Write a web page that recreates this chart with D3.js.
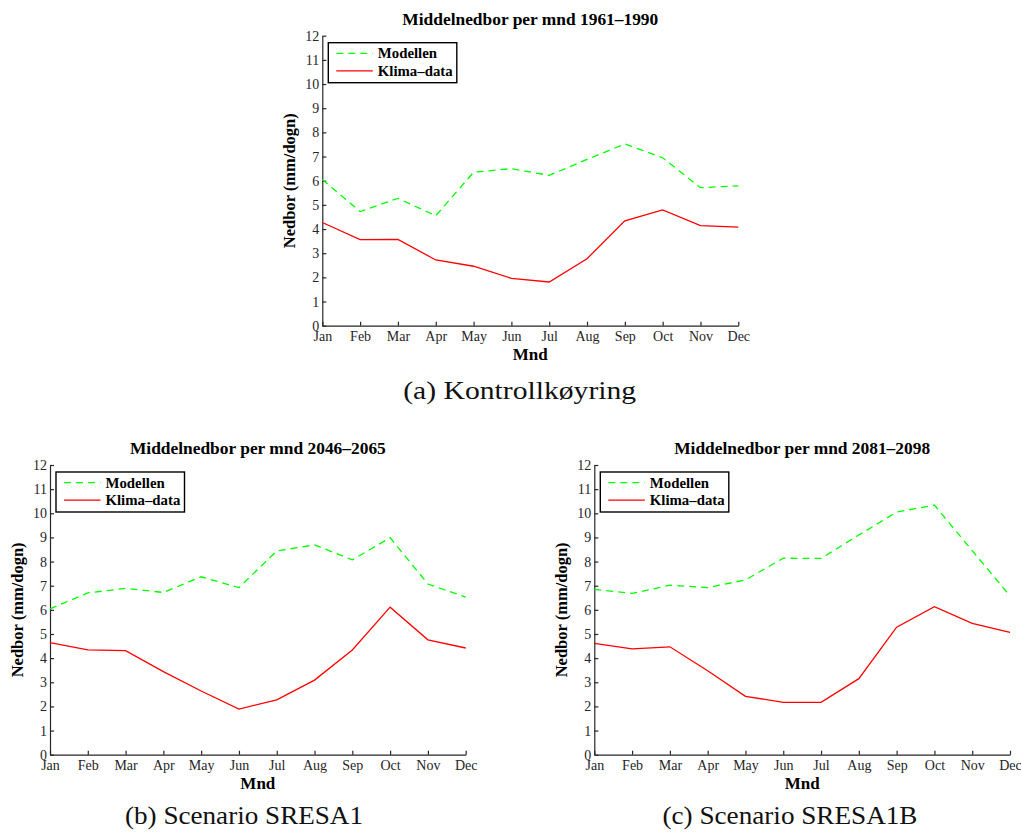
<!DOCTYPE html>
<html>
<head>
<meta charset="utf-8">
<script src="https://cdn.jsdelivr.net/npm/d3@7"></script>
<style>
  body { margin: 0; background: #fff; }
  svg { display: block; }
  .axis path, .axis line { stroke: #262626; stroke-width: 1.2px; }
  .axis text { font-family: "Liberation Serif", serif; font-size: 14px; fill: #262626; }
</style>
</head>
<body>
<script>
const months = ["Jan", "Feb", "Mar", "Apr", "May", "Jun", "Jul", "Aug", "Sep", "Oct", "Nov", "Dec"]
const yTicks = [0, 1, 2, 3, 4, 5, 6, 7, 8, 9, 10, 11, 12]
const seriesNames = ["Modellen", "Klima\u2013data"]

// 1961-1990 (kontroll)
const modellenA = [6.05, 4.72, 5.27, 4.55, 6.35, 6.5, 6.22, 6.88, 7.52, 6.95, 5.71, 5.79]
const klimaA = [4.27, 3.56, 3.57, 2.72, 2.46, 1.96, 1.81, 2.77, 4.34, 4.79, 4.14, 4.08]
// 2046-2065 (SRESA1)
const modellenB = [6.04, 6.7, 6.89, 6.72, 7.37, 6.92, 8.44, 8.69, 8.07, 8.99, 7.07, 6.53]
const klimaB = [4.64, 4.34, 4.31, 3.44, 2.64, 1.89, 2.27, 3.09, 4.34, 6.11, 4.76, 4.42]
// 2081-2098 (SRESA1B)
const modellenC = [6.85, 6.68, 7.02, 6.92, 7.24, 8.14, 8.13, 9.1, 10.05, 10.34, 8.45, 6.58]
const klimaC = [4.61, 4.38, 4.47, 3.48, 2.42, 2.17, 2.17, 3.15, 5.28, 6.13, 5.44, 5.07]

const panels = [
    { title: "Middelnedbor per mnd 1961\u20131990", caption: "(a) Kontrollk\u00f8yring",
      modellen: modellenA, klima: klimaA,
      left: 322.3, right: 738.3, top: 35.7, bottom: 325.7, capX: 519.7, capY: 399, capW: 233 },
    { title: "Middelnedbor per mnd 2046\u20132065", caption: "(b) Scenario SRESA1",
      modellen: modellenB, klima: klimaB,
      left: 50, right: 465.7, top: 465, bottom: 754.7, capX: 244, capY: 824, capW: 238 },
    { title: "Middelnedbor per mnd 2081\u20132098", caption: "(c) Scenario SRESA1B",
      modellen: modellenC, klima: klimaC,
      left: 594.3, right: 1010, top: 465, bottom: 754.7, capX: 790, capY: 824, capW: 255 }
]

const svg = d3.select("body").append("svg")
    .attr("width", 1021)
    .attr("height", 834)

const serif = "'Liberation Serif', 'Times New Roman', serif"

for (let p of panels) {
    const x = d3.scalePoint().domain(months).range([p.left, p.right]).padding(0)
    const y = d3.scaleLinear().domain([0, 12]).range([p.bottom, p.top])

    const g = svg.append("g")

    g.append("g")
        .attr("class", "axis")
        .attr("transform", "translate(0," + p.bottom + ")")
        .call(d3.axisBottom(x).tickSizeInner(-4).tickSizeOuter(0).tickPadding(5))

    g.append("g")
        .attr("class", "axis")
        .attr("transform", "translate(" + p.left + ",0)")
        .call(d3.axisLeft(y).tickValues(yTicks).tickSizeInner(-4).tickSizeOuter(0).tickPadding(3))

    const line = d3.line()
        .x(function (d, i) { return x(months[i]) })
        .y(function (d) { return y(d) })

    g.append("path")
        .datum(p.modellen)
        .attr("d", line)
        .style("fill", "none")
        .style("stroke", "#00ff00")
        .style("stroke-width", "1.3px")
        .style("stroke-dasharray", "7,5")

    g.append("path")
        .datum(p.klima)
        .attr("d", line)
        .style("fill", "none")
        .style("stroke", "#ff0000")
        .style("stroke-width", "1.3px")

    const cx = (p.left + p.right) / 2
    g.append("text")
        .attr("x", cx)
        .attr("y", p.top - 11)
        .attr("text-anchor", "middle")
        .style("font-family", serif)
        .style("font-weight", "bold")
        .style("font-size", "17.4px")
        .text(p.title)

    g.append("text")
        .attr("x", cx)
        .attr("y", p.bottom + 34)
        .attr("text-anchor", "middle")
        .style("font-family", serif)
        .style("font-weight", "bold")
        .style("font-size", "17px")
        .text("Mnd")

    g.append("text")
        .attr("transform", "translate(" + (p.left - 27) + "," + ((p.top + p.bottom) / 2) + ") rotate(-90)")
        .attr("text-anchor", "middle")
        .style("font-family", serif)
        .style("font-weight", "bold")
        .style("font-size", "16.5px")
        .text("Nedbor (mm/dogn)")

    // legend
    const lg = g.append("g").attr("transform", "translate(" + (p.left + 6) + "," + (p.top + 7) + ")")
    lg.append("rect")
        .attr("width", 128.5)
        .attr("height", 40)
        .style("fill", "#fff")
        .style("stroke", "#000")
        .style("stroke-width", "1.4px")
    const legendStyles = [
        { color: "#00ff00", dash: "7,5" },
        { color: "#ff0000", dash: null }
    ]
    seriesNames.forEach(function (name, i) {
        const ly = 10.7 + i * 17.5
        lg.append("line")
            .attr("x1", 8).attr("x2", 44.5)
            .attr("y1", ly).attr("y2", ly)
            .style("stroke", legendStyles[i].color)
            .style("stroke-width", "1.3px")
            .style("stroke-dasharray", legendStyles[i].dash)
        lg.append("text")
            .attr("x", 49.5)
            .attr("y", ly + 4.8)
            .style("font-family", serif)
            .style("font-weight", "bold")
            .style("font-size", "14.8px")
            .text(name)
    })

    svg.append("text")
        .attr("x", p.capX)
        .attr("y", p.capY)
        .attr("text-anchor", "middle")
        .attr("textLength", p.capW)
        .attr("lengthAdjust", "spacingAndGlyphs")
        .style("font-family", serif)
        .style("font-size", "25px")
        .style("fill", "#111")
        .text(p.caption)
}
</script>
</body>
</html>
